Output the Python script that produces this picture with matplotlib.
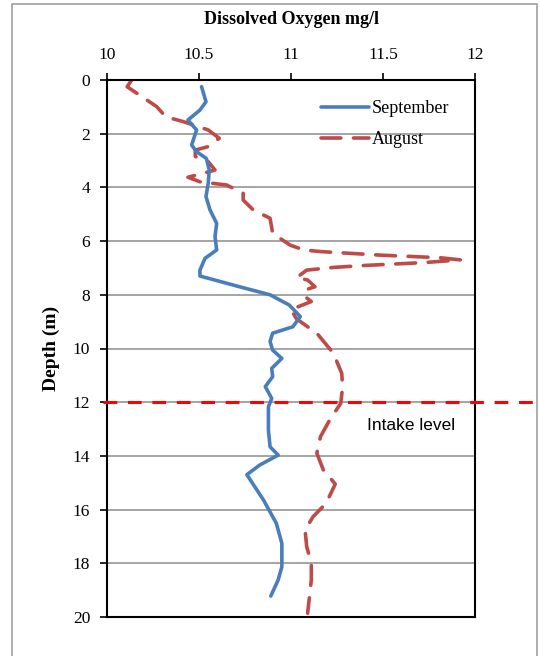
import matplotlib
matplotlib.use("Agg")
import matplotlib.pyplot as plt
from matplotlib.patches import Rectangle

# September profile (DO mg/l vs depth m)
sep_do = [10.514, 10.538, 10.505, 10.44, 10.487, 10.46, 10.487, 10.54, 10.556, 10.55,
          10.538, 10.56, 10.596, 10.587, 10.596, 10.533, 10.505, 10.505, 10.72, 10.886,
          10.99, 11.05, 11.01, 10.90, 10.886, 10.90, 10.95, 10.895, 10.90, 10.86,
          10.895, 10.877, 10.877, 10.886, 10.93, 10.83, 10.76, 10.85, 10.92, 10.95,
          10.95, 10.93, 10.89]
sep_depth = [0.25, 0.81, 1.12, 1.49, 1.86, 2.42, 2.67, 2.92, 3.35, 3.85,
             4.34, 4.84, 5.34, 5.83, 6.33, 6.64, 7.08, 7.3, 7.7, 8.0,
             8.38, 8.81, 9.19, 9.43, 9.74, 10.06, 10.37, 10.74, 11.05, 11.42,
             11.86, 12.17, 13.04, 13.66, 13.97, 14.34, 14.7, 15.64, 16.51, 17.26,
             18.13, 18.62, 19.22]

# August profile
aug_do = [10.134, 10.11, 10.19, 10.27, 10.32, 10.415, 10.55, 10.61, 10.55, 10.48,
          10.48, 10.55, 10.587, 10.52, 10.44, 10.505, 10.65, 10.74, 10.74, 10.795,
          10.886, 10.90, 10.995, 11.07, 11.16, 11.48, 11.81, 11.92, 11.72, 11.39,
          11.23, 11.085, 11.03, 11.09, 11.13, 11.076, 11.076, 11.11, 11.0, 11.03,
          11.14, 11.23, 11.275, 11.28, 11.27, 11.21, 11.16, 11.14, 11.175, 11.24,
          11.19, 11.12, 11.076, 11.085, 11.11, 11.11, 11.10, 11.09]
aug_depth = [0.0, 0.25, 0.62, 0.99, 1.37, 1.55, 1.86, 2.17, 2.48, 2.61,
             2.85, 3.04, 3.35, 3.48, 3.62, 3.79, 3.91, 4.22, 4.47, 4.84,
             5.15, 5.71, 6.15, 6.33, 6.39, 6.52, 6.62, 6.70, 6.80, 6.91,
             6.98, 7.08, 7.36, 7.45, 7.70, 7.82, 8.07, 8.25, 8.55, 8.9,
             9.43, 10.18, 10.92, 11.42, 12.04, 12.66, 13.28, 13.9, 14.52, 15.05,
             15.77, 16.26, 16.76, 17.38, 18.0, 18.62, 19.24, 19.86]

intake_depth = 12
x_ticks = [10, 10.5, 11, 11.5, 12]
y_ticks = [0, 2, 4, 6, 8, 10, 12, 14, 16, 18, 20]

serif = "Liberation Serif"

fig = plt.figure(figsize=(5.4, 6.56), dpi=100)
fig.patches.append(Rectangle((12 / 540, -0.1), 525 / 540, 1.1 - 4 / 656,
                             transform=fig.transFigure, fill=False,
                             edgecolor="#a0a0a0", linewidth=1.2))
ax = fig.add_axes([0.198, 0.0595, 0.682, 0.8185])

for d in y_ticks[1:-1]:
    ax.axhline(d, color="#8c8c8c", linewidth=1.1, zorder=1)

ax.plot(sep_do, sep_depth, color="#4A7EBB", linewidth=2.6, label="September",
        solid_capstyle="round", solid_joinstyle="round", zorder=3)
ax.plot(aug_do, aug_depth, color="#BE4B48", linewidth=2.6, label="August",
        dashes=(5.5, 3.5), dash_capstyle="round", dash_joinstyle="round", zorder=2)

ax.axhline(intake_depth, xmin=-0.012, xmax=1.168, color="#FF0000", linewidth=2.2,
           dashes=(4.5, 3.5), clip_on=False, zorder=4)
ax.text(0.707, 12.85, "Intake level", fontsize=12.5, family="Liberation Sans",
        va="center", ha="left", transform=ax.get_yaxis_transform())

ax.set_xlim(10, 12)
ax.set_ylim(20, 0)
ax.set_xticks(x_ticks)
ax.set_xticklabels(["10", "10.5", "11", "11.5", "12"])
ax.set_yticks(y_ticks)
ax.xaxis.tick_top()
ax.xaxis.set_label_position("top")
ax.tick_params(axis="both", direction="out", length=5, width=1.2,
               labelsize=12.5, pad=7)
for lab in ax.get_xticklabels() + ax.get_yticklabels():
    lab.set_family(serif)

ax.set_xlabel("Dissolved Oxygen mg/l", fontsize=13, fontweight="bold",
              family=serif, labelpad=17)
ax.set_ylabel("Depth (m)", fontsize=14, fontweight="bold", family=serif,
              labelpad=9)

for s in ax.spines.values():
    s.set_linewidth(1.5)

ax.legend(loc="upper left", bbox_to_anchor=(0.58, 0.962), frameon=False,
          prop={"family": serif, "size": 13}, handlelength=2.7,
          handletextpad=0.15, labelspacing=0.75, borderpad=0, borderaxespad=0)

fig.savefig("out.png", dpi=100)
